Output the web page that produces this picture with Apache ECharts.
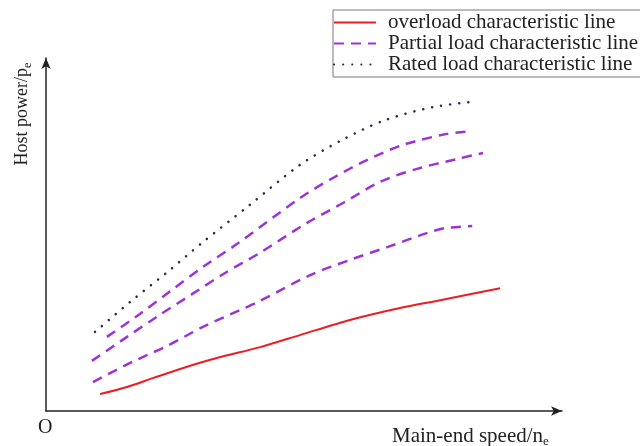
<!DOCTYPE html>
<html>
<head>
<meta charset="utf-8">
<script src="https://cdn.jsdelivr.net/npm/echarts@6/dist/echarts.min.js"></script>
<style>html,body{margin:0;padding:0;background:#fff}#c{width:640px;height:446px}</style>
</head>
<body>
<div id="c"></div>
<script>
// Legend names
const legendNames = ['overload characteristic line', 'Partial load characteristic line', 'Rated load characteristic line'];

// Rated load characteristic line (dotted)
const ratedX = [9.5, 16.3, 23.3, 30.2, 39.5, 49.2, 57.4, 65.7, 75.0, 82.2];
const ratedY = [22.4, 30.9, 39.1, 47.6, 58.4, 69.7, 76.8, 82.4, 86.1, 87.5];

// Partial load characteristic lines (dashed)
const partial1X = [11.8, 18.2, 24.4, 30.4, 37.0, 49.2, 55.6, 62.2, 69.2, 77.7, 82.6];
const partial1Y = [21.0, 27.5, 34.3, 40.8, 47.3, 60.3, 66.0, 71.1, 75.4, 78.5, 79.3];

const partial2X = [8.9, 15.7, 21.7, 28.3, 34.7, 41.1, 50.6, 57.9, 64.7, 71.9, 79.7, 84.7];
const partial2Y = [14.2, 21.0, 26.9, 33.1, 39.1, 44.5, 53.3, 59.2, 64.9, 68.6, 71.4, 73.1];

const partial3X = [9.1, 16.7, 23.4, 30.4, 37.6, 41.1, 51.2, 58.9, 66.3, 73.8, 77.3, 82.6];
const partial3Y = [8.2, 13.9, 18.4, 23.8, 28.6, 30.9, 38.5, 42.8, 46.5, 50.4, 51.8, 52.4];

// Overload characteristic line (solid)
const overloadX = [10.5, 15.7, 20.7, 26.6, 33.1, 41.5, 49.2, 58.9, 68.6, 76.4, 88.0];
const overloadY = [4.8, 6.8, 9.3, 12.2, 15.0, 18.1, 21.5, 25.8, 29.2, 31.4, 34.8];

function zip(xs, ys) { return xs.map((x, i) => [x, ys[i]]); }

const serif = 'Liberation Serif';
const red = '#ec1c24';
const purple = '#9b34d6';
const dotColor = '#2a2a48';

const dashedStyle = { color: purple, width: 2.5, type: [10, 7] };

const axisCommon = {
  type: 'value', min: 0, max: 100,
  axisLine: { show: true, onZero: false, symbol: ['none', 'arrow'], symbolSize: [7, 11],
              lineStyle: { color: '#222', width: 1.5 } },
  axisTick: { show: false }, axisLabel: { show: false }, splitLine: { show: false }
};

const chart = echarts.init(document.getElementById('c'), null, { renderer: 'canvas' });
chart.setOption({
  animation: false,
  backgroundColor: '#fff',
  grid: { left: 46, right: 78, top: 58, bottom: 35 },
  xAxis: Object.assign({}, axisCommon),
  yAxis: Object.assign({}, axisCommon),
  legend: {
    data: legendNames,
    orient: 'vertical',
    left: 333, top: 10,
    itemWidth: 42, itemHeight: 14, itemGap: 0,
    padding: [2, 6, 2, 0],
    borderColor: '#777', borderWidth: 1,
    itemStyle: { opacity: 0 },
    textStyle: { fontFamily: serif, fontSize: 21, color: '#222', padding: [0, 0, 0, 7] }
  },
  graphic: [
    { type: 'text', left: 38, top: 418, style: { text: 'O', font: '20px "Liberation Serif"', fill: '#222' } },
    { type: 'text', x: 392, y: 436,
      style: { text: '{a|Main-end speed/n}{s|e}', align: 'left', verticalAlign: 'middle',
        rich: { a: { fontFamily: serif, fontSize: 21, fill: '#222', color: '#222' },
                s: { fontFamily: serif, fontSize: 13, fill: '#222', color: '#222', padding: [12, 0, 0, 0] } } } },
    { type: 'text', x: 22, y: 114, rotation: Math.PI / 2,
      style: { text: '{a|Host power/p}{s|e}', align: 'center', verticalAlign: 'middle',
        rich: { a: { fontFamily: serif, fontSize: 18, fill: '#222', color: '#222' },
                s: { fontFamily: serif, fontSize: 12, fill: '#222', color: '#222', padding: [11, 0, 0, 0] } } } }
  ],
  series: [
    { name: legendNames[0], type: 'line', data: zip(overloadX, overloadY), smooth: 0.3, symbol: 'none',
      lineStyle: { color: red, width: 2 }, itemStyle: { color: red } },
    { name: legendNames[1], type: 'line', data: zip(partial1X, partial1Y), smooth: 0.3, symbol: 'none',
      lineStyle: dashedStyle, itemStyle: { color: purple } },
    { name: legendNames[1], type: 'line', data: zip(partial2X, partial2Y), smooth: 0.3, symbol: 'none',
      lineStyle: dashedStyle, itemStyle: { color: purple } },
    { name: legendNames[1], type: 'line', data: zip(partial3X, partial3Y), smooth: 0.3, symbol: 'none',
      lineStyle: dashedStyle, itemStyle: { color: purple } },
    { name: legendNames[2], type: 'line', data: zip(ratedX, ratedY), smooth: 0.3, symbol: 'none',
      lineStyle: { color: dotColor, width: 2.5, type: [0.1, 9], cap: 'round' }, itemStyle: { color: dotColor } }
  ]
});
</script>
</body>
</html>
